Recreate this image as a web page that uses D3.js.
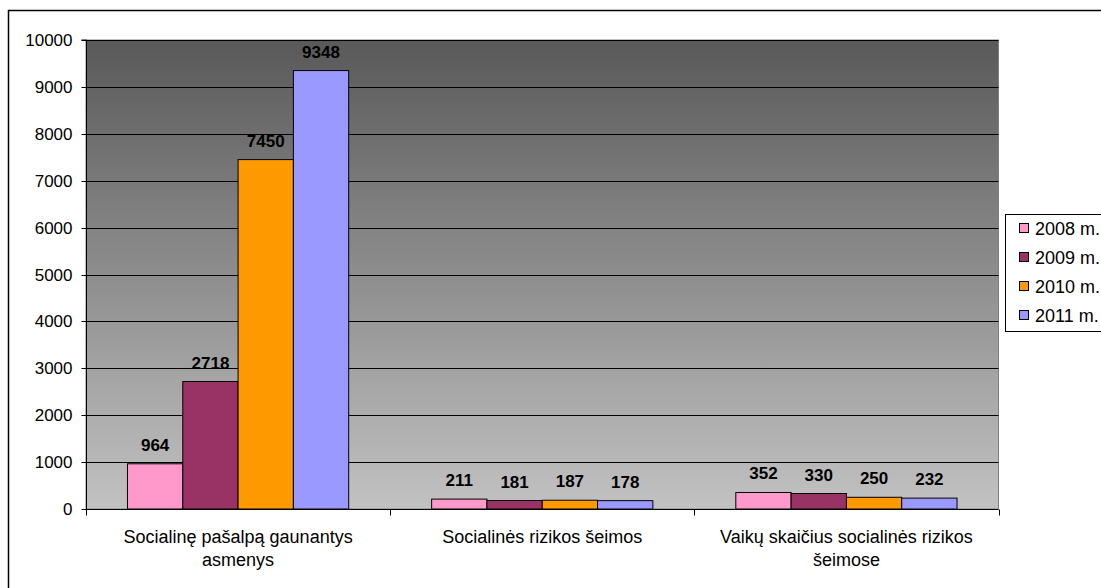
<!DOCTYPE html>
<html><head><meta charset="utf-8">
<script src="https://cdn.jsdelivr.net/npm/d3@7"></script>
<style>body{margin:0;background:#fff;} svg{display:block;font-family:"Liberation Sans",Arial,sans-serif;}</style>
</head><body>
<svg id="c" width="1101" height="588"></svg>
<script>
const categories = [["Socialinę pašalpą gaunantys","asmenys"],["Socialinės rizikos šeimos"],["Vaikų skaičius socialinės rizikos","šeimose"]];
const seriesNames = ["2008 m.","2009 m.","2010 m.","2011 m."];
const v2008 = [964, 211, 352];
const v2009 = [2718, 181, 330];
const v2010 = [7450, 187, 250];
const v2011 = [9348, 178, 232];
const yTicks = [0,1000,2000,3000,4000,5000,6000,7000,8000,9000,10000];
const colors = ["#FF99CC","#993366","#FF9900","#9999FF"];
const series = [v2008, v2009, v2010, v2011];

const svg = d3.select("#c");
const L = 86, R = 998.5, T = 40, B = 509;

// outer frame
svg.append("rect").attr("x",8.5).attr("y",10.5).attr("width",1200).attr("height",700)
  .attr("fill","#fff").attr("stroke","#000").attr("stroke-width",1.5);

const x = d3.scaleBand().domain(d3.range(categories.length)).range([L,R]).paddingInner(0).paddingOuter(0);
const y = d3.scaleLinear().domain([0,10000]).range([B,T]);

const defs = svg.append("defs");
const g = defs.append("linearGradient").attr("id","bg").attr("x1",0).attr("y1",0).attr("x2",0).attr("y2",1);
g.append("stop").attr("offset","0%").attr("stop-color","#595959");
g.append("stop").attr("offset","100%").attr("stop-color","#c2c2c2");

svg.append("rect").attr("x",L).attr("y",T).attr("width",R-L).attr("height",B-T).attr("fill","url(#bg)")
  .attr("stroke","#808080").attr("stroke-width",1);

// gridlines
svg.append("g").selectAll("line").data(yTicks.filter(d=>d>0)).join("line")
  .attr("x1",L).attr("x2",R).attr("y1",d=>Math.round(y(d))+0.5).attr("y2",d=>Math.round(y(d))+0.5)
  .attr("stroke","#000").attr("stroke-width",1);

// bars
const bw = x.bandwidth()/5.5;
const inner = d3.scaleBand().domain(d3.range(4)).range([0,bw*4]);
series.forEach((s,si)=>{
  svg.append("g").selectAll("rect").data(s).join("rect")
    .attr("x",(d,i)=>x(i)+bw*0.75+inner(si))
    .attr("y",d=>y(d)).attr("width",bw).attr("height",d=>B-y(d))
    .attr("fill",colors[si]).attr("stroke","#000").attr("stroke-width",1);
  svg.append("g").selectAll("text").data(s).join("text")
    .attr("x",(d,i)=>x(i)+bw*0.75+inner(si)+bw/2)
    .attr("y",d=>y(d)-13)
    .attr("text-anchor","middle").attr("font-weight","bold").attr("font-size","17px").attr("fill","#000")
    .text(d=>d);
});

// y axis
const ya = svg.append("g").attr("transform",`translate(${L+0.5},0)`)
  .call(d3.axisLeft(y).tickValues(yTicks).tickSize(5).tickPadding(9).tickFormat(d3.format("d")));
ya.select(".domain").attr("d",`M-5,${T}H0V${B+0.5}`).attr("stroke","#000");
ya.selectAll(".tick line").attr("stroke","#000");
ya.selectAll(".tick text").attr("font-size","17px").attr("fill","#000").attr("font-family","Liberation Sans, Arial, sans-serif");
ya.selectAll(".tick").attr("transform",d=>`translate(0,${Math.round(y(d))+0.5})`);

// x axis
const xa = svg.append("g").attr("transform",`translate(0,${B+0.5})`);
xa.append("line").attr("x1",L).attr("x2",R).attr("stroke","#000");
xa.selectAll("line.t").data(d3.range(categories.length+1)).join("line").attr("class","t")
  .attr("x1",i=>Math.round(L+i*x.bandwidth())+0.5).attr("x2",i=>Math.round(L+i*x.bandwidth())+0.5)
  .attr("y1",0).attr("y2",6).attr("stroke","#000");
const lbl = svg.append("g").selectAll("text").data(categories).join("text")
  .attr("text-anchor","middle").attr("font-size","18px").attr("fill","#000");
lbl.each(function(lines,i){
  d3.select(this).selectAll("tspan").data(lines).join("tspan")
    .attr("x",x(i)+x.bandwidth()/2).attr("y",(d,j)=>543+j*23).text(d=>d);
});

// legend
svg.append("rect").attr("x",1005.5).attr("y",214.5).attr("width",200).attr("height",117)
  .attr("fill","#fff").attr("stroke","#000").attr("stroke-width",1);
const lg = svg.append("g").selectAll("g").data(seriesNames).join("g")
  .attr("transform",(d,i)=>`translate(1019,${228+i*29})`);
lg.append("rect").attr("x",0.5).attr("y",-4.5).attr("width",9).attr("height",9)
  .attr("fill",(d,i)=>colors[i]).attr("stroke","#000").attr("stroke-width",1);
lg.append("text").attr("x",16).attr("y",6.5).attr("font-size","18px").attr("fill","#000").text(d=>d);
</script>
</body></html>
